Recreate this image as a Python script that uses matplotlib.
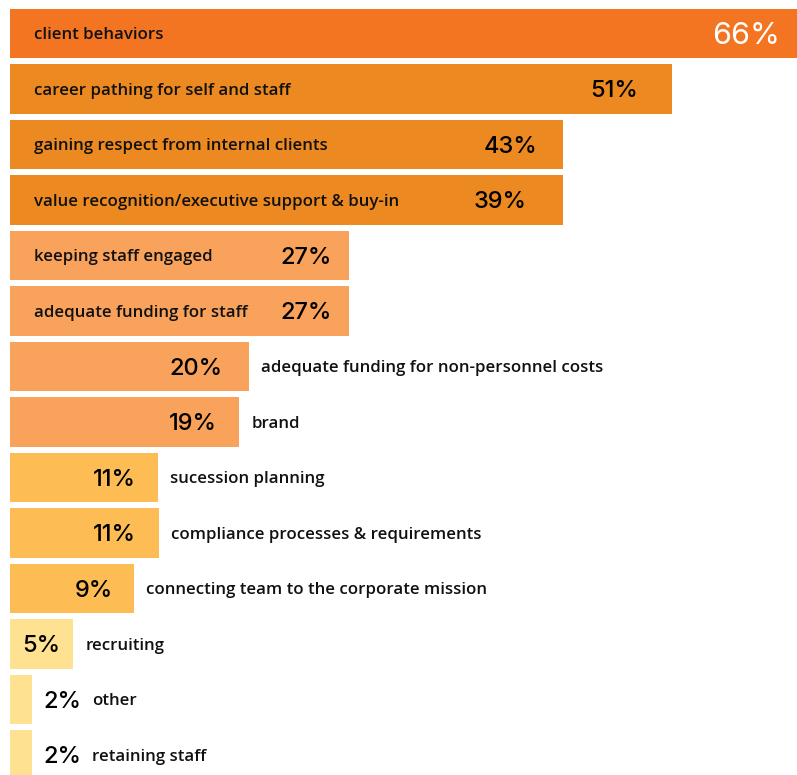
import matplotlib.pyplot as plt

# data (bar lengths are drawn differently from the printed values)
categories = [
    'client behaviors',
    'career pathing for self and staff',
    'gaining respect from internal clients',
    'value recognition/executive support & buy-in',
    'keeping staff engaged',
    'adequate funding for staff',
    'adequate funding for non-personnel costs',
    'brand',
    'sucession planning',
    'compliance processes & requirements',
    'connecting team to the corporate mission',
    'recruiting',
    'other',
    'retaining staff',
]
values = [66, 51, 43, 39, 27, 27, 20, 19, 11, 11, 9, 5, 2, 2]
bar_lengths = [65.9, 55.4, 46.3, 46.3, 28.4, 28.4, 20.0, 19.2, 12.4, 12.5, 10.4, 5.3, 1.85, 1.85]

# styling
colors = ['#F47521'] + ['#EC8920'] * 3 + ['#F8A25C'] * 4 + ['#FDBD54'] * 3 + ['#FFE192'] * 3
n_inside = 6                 # rows whose category label sits inside the bar
pct_gap = [18, 34, 26, 37, 18, 18, 26, 23, 22, 23, 21, 13, None, None]   # px from bar end to % text
S = 11.95                    # px per data unit
PCT_FONT = ['Inter', 'DejaVu Sans']
LAB_FONT = ['Open Sans', 'DejaVu Sans']

fig = plt.figure(figsize=(7.97, 7.75), dpi=100)
ax = fig.add_axes([0, 0, 1, 1])

y = list(range(len(values)))
ax.barh(y, bar_lengths, height=0.89, color=colors, left=0)

for i, (cat, v, L) in enumerate(zip(categories, values, bar_lengths)):
    pct = f'{v}%'
    if i == 0:
        ax.text(L - pct_gap[i] / S, i + 0.04, pct, ha='right', va='center',
                fontsize=22, color='white', family=PCT_FONT, fontweight='normal')
    elif pct_gap[i] is not None:
        ax.text(L - pct_gap[i] / S, i + 0.04, pct, ha='right', va='center',
                fontsize=17, color='black', family=PCT_FONT, fontweight='medium')
    if i < n_inside:
        ax.text(24 / S, i + 0.03, cat, ha='left', va='center', fontsize=12.2,
                color='#111111', family=LAB_FONT, fontweight='semibold')
    else:
        if pct_gap[i] is None:
            ax.text(L + 11 / S, i + 0.04, pct, ha='left', va='center',
                    fontsize=17, color='black', family=PCT_FONT, fontweight='medium')
            x_lab = L + 60 / S
        else:
            x_lab = L + 12 / S
        ax.text(x_lab, i + 0.03, cat, ha='left', va='center', fontsize=12.2,
                color='#111111', family=LAB_FONT, fontweight='semibold')

ax.set_xlim(-10 / S, 787 / S)
ax.set_ylim(13.36, -0.604)
ax.axis('off')

fig.savefig('out.png', dpi=100)
